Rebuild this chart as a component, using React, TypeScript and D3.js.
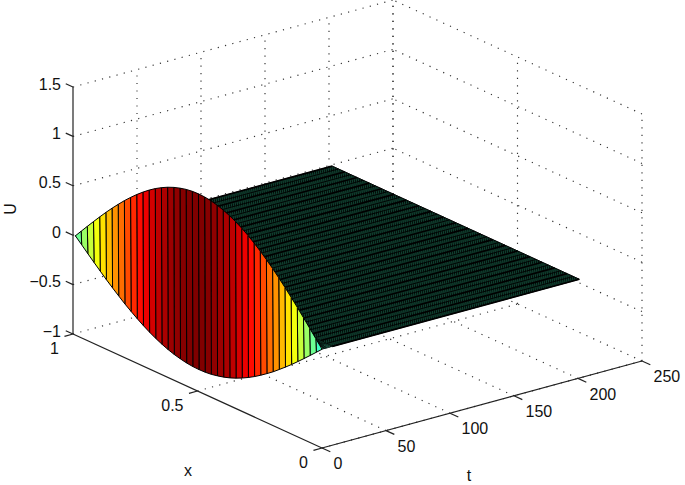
import React from 'react'
import * as d3 from 'd3'

// axis ticks
const xTicks = [0, 0.5, 1]
const tTicks = [0, 50, 100, 150, 200, 250]
const zTicks = [-1, -0.5, 0, 0.5, 1, 1.5]
const zLabels = ['\u22121', '\u22120.5', '0', '0.5', '1', '1.5']

// surface: 41 x stations
const xGrid = d3.range(0, 41).map((i) => i * 0.0248)
const firstRow = [0, 0.078, 0.156, 0.233, 0.309, 0.383, 0.454, 0.522, 0.588, 0.649, 0.707, 0.76, 0.809, 0.853, 0.891, 0.924, 0.951, 0.972, 0.988, 0.997, 1,
  0.997, 0.988, 0.972, 0.951, 0.924, 0.891, 0.853, 0.809, 0.76, 0.707, 0.649, 0.588, 0.522, 0.454, 0.383, 0.309, 0.233, 0.156, 0.078, 0]
const secondRow = [0, -0.061, -0.122, -0.182, -0.241, -0.299, -0.354, -0.407, -0.459, -0.506, -0.551, -0.593, -0.631, -0.665, -0.695, -0.721, -0.742, -0.758, -0.771, -0.778, -0.78,
  -0.778, -0.771, -0.758, -0.742, -0.721, -0.695, -0.665, -0.631, -0.593, -0.551, -0.506, -0.459, -0.407, -0.354, -0.299, -0.241, -0.182, -0.122, -0.061, 0]
const secondRowTime = 0.4

// rows just after the start, they show as the small fan near x = 0
const fanTimes = [0.8, 1.2, 1.6, 2, 2.5, 3, 3.5, 4, 5, 6, 7, 8]
const fanHeights = [0.6, 0.52, 0.45, 0.38, 0.32, 0.26, 0.21, 0.16, 0.12, 0.08, 0.05, 0.02]

const plateStart = 8
const plateEnd = 201
const plateStep = 1

const width = 685
const height = 485

// projection of the box, from its corners in the picture
const xToLeft = d3.scaleLinear().domain([0, 1]).range([322, 73])
const xToTop = d3.scaleLinear().domain([0, 1]).range([448, 334])
const tToLeft = d3.scaleLinear().domain([0, 250]).range([0, 320])
const tToTop = d3.scaleLinear().domain([0, 250]).range([0, -87])
const zToTop = d3.scaleLinear().domain([-1, 1.5]).range([0, -247])

const project = (x: number, t: number, z: number): [number, number] => [
  xToLeft(x) + tToLeft(t),
  xToTop(x) + tToTop(t) + zToTop(z),
]

const path = d3.line()

const jet = (v: number) => {
  const c = (d: number) => Math.round(255 * Math.max(0, Math.min(1, 1.5 - Math.abs(4 * v - d))))
  return `rgb(${c(3)},${c(2)},${c(1)})`
}
const colorValue = d3.scaleLinear().domain([-0.78, 1]).range([0, 1]).clamp(true)
const surfaceColor = (u: number) => jet(colorValue(u))

const seg = (a: [number, number, number], b: [number, number, number]) => path([project(...a), project(...b)]) as string

const gridPaths = [
  // floor
  ...tTicks.slice(1).map((t) => seg([0, t, -1], [1, t, -1])),
  ...xTicks.slice(0, 2).map((x) => seg([x, 0, -1], [x, 250, -1])),
  seg([1, 0, -1], [1, 250, -1]),
  // back wall at x = 1
  ...tTicks.slice(1).map((t) => seg([1, t, -1], [1, t, 1.5])),
  ...zTicks.slice(1).map((z) => seg([1, 0, z], [1, 250, z])),
  // back wall at t = 250
  ...xTicks.map((x) => seg([x, 250, -1], [x, 250, 1.5])),
  ...zTicks.slice(1).map((z) => seg([0, 250, z], [1, 250, z])),
]

const strip = (j: number, t0: number, row0: number[], t1: number, row1: number[]) => path([
  project(xGrid[j], t0, row0[j]),
  project(xGrid[j + 1], t0, row0[j + 1]),
  project(xGrid[j + 1], t1, row1[j + 1]),
  project(xGrid[j], t1, row1[j]),
]) + 'Z'

const fanRows = fanHeights.map((h) => firstRow.map((u) => u * h))
const stripIndex = d3.range(0, 40)
const xEnd = xGrid[40]

const plateOutline = path([
  project(0, plateStart, 0),
  project(xEnd, plateStart, 0),
  project(xEnd, plateEnd, 0),
  project(0, plateEnd, 0),
]) + 'Z'

const plateRows = d3.range(plateStart, plateEnd + 0.01, plateStep)
  .map((t) => seg([0, t, 0], [xEnd, t, 0])).join('')
const plateBoldLines = xGrid.filter((_, j) => j % 2 === 0)
  .map((x) => seg([x, plateStart, 0], [x, plateEnd, 0])).join('')
const plateThinLines = xGrid.filter((_, j) => j % 2 === 1)
  .map((x) => seg([x, plateStart, 0], [x, plateEnd, 0])).join('')

const font = '"Liberation Sans", Arial, sans-serif'

export default function App() {
  const tTickLen = 8 / 275
  const xTickLen = 8.5 / 320 * 250
  return (
    <svg width={width} height={height} style={{ position: 'absolute', left: 0, top: 0, background: '#fff' }} fontFamily={font} fontSize={16} fill="#111">
      <g fill="none" stroke="#333" strokeWidth={1.15} strokeDasharray="1.2 6.3">
        {gridPaths.map((d, i) => <path key={i} d={d} />)}
      </g>

      <path d={plateOutline} fill={surfaceColor(0)} stroke="#000" strokeWidth={0.8} />
      <path d={plateRows} fill="none" stroke="#000" strokeWidth={0.95} />
      <path d={plateThinLines} fill="none" stroke="#000" strokeWidth={0.9} />
      <path d={plateBoldLines} fill="none" stroke="#000" strokeWidth={1.7} />

      {d3.range(fanRows.length - 1, 0, -1).map((r) => stripIndex.map((j) => (
        <path key={`${r}-${j}`} d={strip(j, fanTimes[r - 1], fanRows[r - 1], fanTimes[r], fanRows[r])}
          fill={surfaceColor(fanRows[r - 1][j])} stroke="#000" strokeWidth={0.7} />
      )))}

      {stripIndex.map((j) => (
        <path key={j} d={strip(j, 0, firstRow, secondRowTime, secondRow)}
          fill={surfaceColor(firstRow[j])} stroke="#000" strokeWidth={1} strokeLinejoin="round" />
      ))}

      <g fill="none" stroke="#222" strokeWidth={1.2}>
        <path d={seg([1, 0, -1], [1, 0, 1.5])} />
        <path d={seg([0, 0, -1], [1, 0, -1])} />
        <path d={seg([0, 0, -1], [0, 250, -1])} />
        {zTicks.map((z) => <path key={z} d={seg([1, 0, z], [1 + tTickLen, 0, z])} />)}
        {xTicks.map((x) => <path key={x} d={seg([x, 0, -1], [x, -xTickLen, -1])} />)}
        {tTicks.map((t) => <path key={t} d={seg([0, t, -1], [-tTickLen * 1.15, t, -1])} />)}
      </g>

      {zTicks.map((z, i) => {
        const [px, py] = project(1, 0, z)
        return <text key={z} x={px - 12} y={py - 3} dy=".35em" textAnchor="end">{zLabels[i]}</text>
      })}
      {xTicks.map((x) => {
        const [px, py] = project(x, 0, -1)
        return <text key={x} x={px - 14} y={py + 14} dy=".35em" textAnchor="end">{x}</text>
      })}
      {tTicks.map((t) => {
        const [px, py] = project(0, t, -1)
        return <text key={t} x={px + 11.5} y={py + 15.5} dy=".35em">{t}</text>
      })}

      <text x={188} y={470} dy=".35em" textAnchor="middle">x</text>
      <text x={469} y={475} dy=".35em" textAnchor="middle">t</text>
      <text transform="translate(10,209) rotate(-90)" dy=".35em" textAnchor="middle">U</text>
    </svg>
  )
}
